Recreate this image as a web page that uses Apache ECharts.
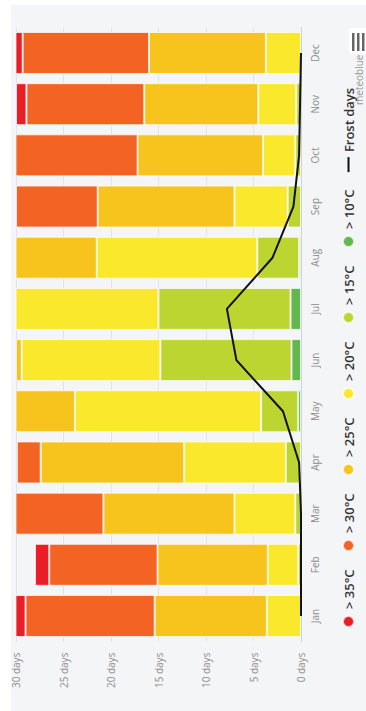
<!DOCTYPE html>
<html>
<head>
<meta charset="utf-8">
<script src="https://cdn.jsdelivr.net/npm/echarts@6/dist/echarts.min.js"></script>
<style>
  html, body { margin: 0; padding: 0; width: 366px; height: 711px; overflow: hidden; background: #fff; }
  /* the chart is drawn landscape and turned a quarter turn to the left */
  #chart {
    position: absolute; left: 0; top: 0;
    width: 711px; height: 366px;
    transform-origin: 0 0;
    transform: translateY(711px) rotate(-90deg);
  }
</style>
</head>
<body>
<div id="chart"></div>
<script>
// 月份
const months = ['Jan', 'Feb', 'Mar', 'Apr', 'May', 'Jun', 'Jul', 'Aug', 'Sep', 'Oct', 'Nov', 'Dec']

// 每月天数 (按最高气温分段)
const above10 = [0, 0, 0, 0, 0.3, 1.0, 1.1, 0.2, 0, 0, 0, 0]
const above15 = [0, 0.3, 0.6, 1.6, 3.9, 13.8, 13.9, 4.4, 1.4, 0.6, 0.5, 0]
const above20 = [3.6, 3.2, 6.4, 10.7, 19.6, 14.6, 16.0, 16.9, 5.6, 3.4, 4.0, 3.7]
const above25 = [11.8, 11.6, 13.8, 15.1, 7.2, 0.6, 0, 9.5, 14.4, 13.2, 12.0, 12.3]
const above30 = [13.6, 11.4, 10.2, 2.5, 0, 0, 0, 0, 8.6, 13.8, 12.4, 13.3]
const above35 = [2.0, 1.5, 0, 0, 0, 0, 0, 0, 0, 0, 1.1, 1.7]
const frostDays = [0, 0, 0, 0.2, 1.9, 6.8, 7.8, 3.0, 0.8, 0.2, 0.1, 0]

// 纵轴刻度
const dayTicks = [0, 5, 10, 15, 20, 25, 30]

const font = "'Open Sans', 'Noto Sans', sans-serif"

// 堆叠顺序: 从 0 开始往上
const stackList = [
    { name: '> 10°C', data: above10, color: '#62b74e' },
    { name: '> 15°C', data: above15, color: '#bcd531' },
    { name: '> 20°C', data: above20, color: '#f9e82c' },
    { name: '> 25°C', data: above25, color: '#f7c31d' },
    { name: '> 30°C', data: above30, color: '#f26324' },
    { name: '> 35°C', data: above35, color: '#e91e27' }
]

const myCharts = echarts.init(document.getElementById('chart'), null, { renderer: 'svg' })

const series = stackList.map(item => ({
    name: item.name,
    type: 'bar',
    stack: 'days',
    barWidth: '82%',
    itemStyle: {
        color: item.color,
        borderColor: 'rgba(255,255,255,0.7)',
        borderWidth: 1
    },
    // 0 天的分段不画
    data: item.data.map(v => v === 0 ? '-' : v)
}))

series.push({
    name: 'Frost days',
    type: 'line',
    symbol: 'none',
    z: 10,
    lineStyle: { color: '#111', width: 2 },
    itemStyle: { color: '#111' },
    data: frostDays
})

const option = {
    animation: false,
    backgroundColor: '#fff',
    textStyle: { fontFamily: font },
    graphic: [
        {
            type: 'rect', z: -10, silent: true,
            shape: { x: 0, y: 11, width: 706, height: 355 },
            style: { fill: '#f4f5f7' }
        },
        {
            type: 'text', z: 5,
            style: { x: 606, y: 354, text: 'meteoblue', fill: '#9a9a9a', font: '10px ' + font, textVerticalAlign: 'top' }
        },
        {
            type: 'rect', z: 5,
            shape: { x: 657, y: 349, width: 26, height: 20, r: 3 },
            style: { fill: '#fff' }
        },
        { type: 'rect', z: 6, shape: { x: 660, y: 352, width: 18, height: 2.5 }, style: { fill: '#666' } },
        { type: 'rect', z: 6, shape: { x: 660, y: 357, width: 18, height: 2.5 }, style: { fill: '#666' } },
        { type: 'rect', z: 6, shape: { x: 660, y: 362, width: 18, height: 2.5 }, style: { fill: '#666' } }
    ],
    legend: {
        left: 78,
        top: 337,
        itemGap: 17.5,
        itemWidth: 15,
        itemHeight: 11,
        textStyle: { fontFamily: font, fontSize: 13, fontWeight: 600, color: '#333' },
        data: [
            { name: '> 35°C', icon: 'circle' },
            { name: '> 30°C', icon: 'circle' },
            { name: '> 25°C', icon: 'circle' },
            { name: '> 20°C', icon: 'circle' },
            { name: '> 15°C', icon: 'circle' },
            { name: '> 10°C', icon: 'circle' },
            { name: 'Frost days', icon: 'path://M0 0H30V4H0Z' }
        ]
    },
    grid: {
        left: 69.4,
        right: 27.4,
        top: 16,
        bottom: 65,
        containLabel: false
    },
    xAxis: {
        type: 'category',
        data: months,
        axisLine: { lineStyle: { color: '#cfd3d8' } },
        axisTick: { alignWithLabel: true, length: 4, lineStyle: { color: '#cfd3d8' } },
        axisLabel: { color: '#8c8c8c', fontSize: 10, margin: 9, fontFamily: font }
    },
    yAxis: {
        type: 'value',
        min: dayTicks[0],
        max: dayTicks[dayTicks.length - 1],
        interval: 5,
        axisLine: { show: false },
        axisTick: { show: false },
        splitLine: { lineStyle: { color: '#e2e4e8' } },
        axisLabel: { color: '#8c8c8c', fontSize: 10, margin: 11, fontFamily: font, formatter: '{value} days' }
    },
    series: series
}

myCharts.setOption(option)
</script>
</body>
</html>
